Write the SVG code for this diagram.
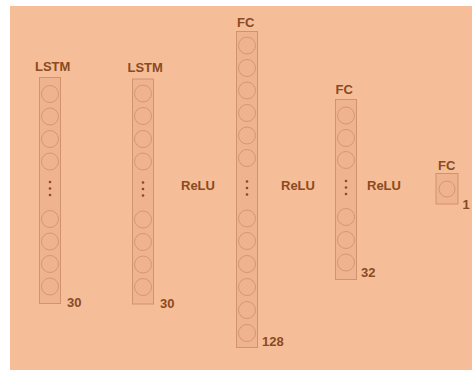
<svg xmlns="http://www.w3.org/2000/svg" width="472" height="370" viewBox="0 0 472 370">
<style>
.bg{fill:#f6bd99}
.col{fill:#efb48f;stroke:#cf936f;stroke-width:1}
.n{fill:none;stroke:#d49874;stroke-width:1}
.d{fill:#8a4a22}
text{font-family:"Liberation Sans",Arial,sans-serif;font-weight:bold;font-size:13px;fill:#8a4a22}
</style>
<defs>
<g id="dots"><circle class="d" cx="0" cy="-6.5" r="1.3"/><circle class="d" cx="0" cy="0" r="1.3"/><circle class="d" cx="0" cy="6.5" r="1.3"/></g>
</defs>
<rect x="0" y="0" width="472" height="370" fill="#ffffff"/>
<rect class="bg" x="10" y="6" width="462" height="364"/>
<g id="connectors"></g>
<g id="lstm1">
<text x="35" y="71">LSTM</text>
<rect class="col" x="39.5" y="77.5" width="21" height="226"/>
<circle class="n" cx="50" cy="94" r="8.5"/><circle class="n" cx="50" cy="116.5" r="8.5"/><circle class="n" cx="50" cy="139" r="8.5"/><circle class="n" cx="50" cy="161.5" r="8.5"/>
<use href="#dots" x="50" y="188.5"/>
<circle class="n" cx="50" cy="219" r="8.5"/><circle class="n" cx="50" cy="241.5" r="8.5"/><circle class="n" cx="50" cy="264" r="8.5"/><circle class="n" cx="50" cy="286.5" r="8.5"/>
<text x="67" y="307">30</text>
</g>
<g id="lstm2">
<text x="127.5" y="72">LSTM</text>
<rect class="col" x="132.5" y="79" width="21" height="225"/>
<circle class="n" cx="143" cy="93.5" r="8.5"/><circle class="n" cx="143" cy="116" r="8.5"/><circle class="n" cx="143" cy="139" r="8.5"/><circle class="n" cx="143" cy="161.5" r="8.5"/>
<use href="#dots" x="143" y="189"/>
<circle class="n" cx="143" cy="219.5" r="8.5"/><circle class="n" cx="143" cy="242" r="8.5"/><circle class="n" cx="143" cy="264.5" r="8.5"/><circle class="n" cx="143" cy="287" r="8.5"/>
<text x="160" y="308">30</text>
</g>
<text id="relu1" x="181" y="189.5">ReLU</text>
<g id="fc128">
<text x="237" y="27">FC</text>
<rect class="col" x="236.5" y="31.5" width="21" height="316"/>
<circle class="n" cx="247" cy="45.5" r="8.5"/><circle class="n" cx="247" cy="68" r="8.5"/><circle class="n" cx="247" cy="90.5" r="8.5"/><circle class="n" cx="247" cy="113" r="8.5"/><circle class="n" cx="247" cy="135.5" r="8.5"/><circle class="n" cx="247" cy="158" r="8.5"/>
<use href="#dots" x="247" y="188"/>
<circle class="n" cx="247" cy="218.5" r="8.5"/><circle class="n" cx="247" cy="241" r="8.5"/><circle class="n" cx="247" cy="264" r="8.5"/><circle class="n" cx="247" cy="287" r="8.5"/><circle class="n" cx="247" cy="310" r="8.5"/><circle class="n" cx="247" cy="333" r="8.5"/>
<text x="262" y="346">128</text>
</g>
<text id="relu2" x="281" y="189.5">ReLU</text>
<g id="fc32">
<text x="335.5" y="94">FC</text>
<rect class="col" x="335.5" y="99.5" width="21" height="180"/>
<circle class="n" cx="346" cy="115.5" r="8.5"/><circle class="n" cx="346" cy="138" r="8.5"/><circle class="n" cx="346" cy="160" r="8.5"/>
<use href="#dots" x="346" y="187.5"/>
<circle class="n" cx="346" cy="217" r="8.5"/><circle class="n" cx="346" cy="240" r="8.5"/><circle class="n" cx="346" cy="262.5" r="8.5"/>
<text x="361" y="277">32</text>
</g>
<text id="relu3" x="367" y="189.5">ReLU</text>
<g id="fc1">
<text x="438" y="169.5">FC</text>
<rect class="col" x="436" y="173.5" width="22" height="30.5"/>
<circle class="n" cx="447" cy="189" r="8"/>
<text x="462.5" y="208.5">1</text>
</g>
</svg>
